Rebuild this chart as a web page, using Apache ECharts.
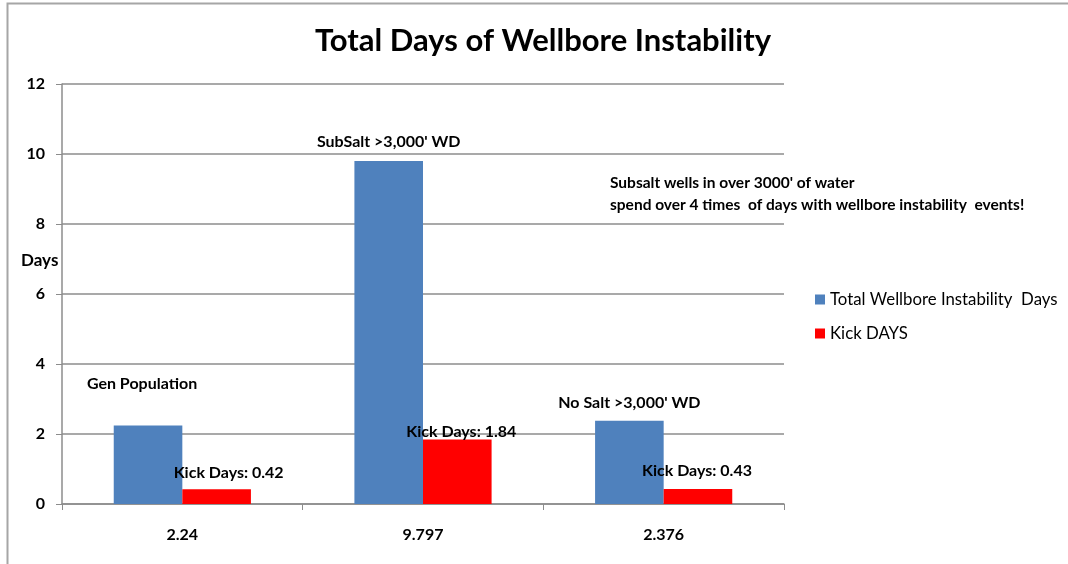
<!DOCTYPE html>
<html>
<head>
<meta charset="utf-8">
<script src="https://cdn.jsdelivr.net/npm/echarts@6/dist/echarts.min.js"></script>
<style>
  html, body { margin: 0; padding: 0; background: #ffffff; }
  #chart { width: 1068px; height: 564px; }
</style>
</head>
<body>
<div id="chart"></div>
<script>
// categories on the x axis (the totals as printed)
const categories = ['2.24', '9.797', '2.376'];
const totalDays = [2.24, 9.797, 2.376];
const kickDays = [0.42, 1.84, 0.43];
const groupNames = ['Gen Population', "SubSalt >3,000' WD", "No Salt >3,000' WD"];
const yTicks = [0, 2, 4, 6, 8, 10, 12];

const font = 'Lato, "DejaVu Sans", sans-serif';

// label placement per bar, kept apart from the values
const groupLabelDist = [34, 11, 10];
const groupLabelOffset = [[-6, 0], [0, 0], [0, 0]];
const kickLabelDist = [8, 0, 10];
const kickLabelOffset = [[12, 0], [4, 0], [-1, 0]];

const chart = echarts.init(document.getElementById('chart'));

chart.setOption({
  backgroundColor: '#ffffff',
  animation: false,
  textStyle: { fontFamily: font, color: '#000' },
  title: {
    text: 'Total Days of Wellbore Instability',
    left: 538,
    textAlign: 'center',
    top: 20,
    textStyle: { fontFamily: font, fontSize: 31, fontWeight: 'bold', color: '#000' }
  },
  legend: {
    orient: 'vertical',
    left: 810,
    top: 286,
    itemWidth: 10,
    itemHeight: 10,
    itemGap: 17,
    icon: 'rect',
    textStyle: { fontFamily: font, fontSize: 16.8, color: '#000' },
    data: ['Total Wellbore Instability  Days', 'Kick DAYS']
  },
  grid: { left: 62, right: 284, top: 84, bottom: 60 },
  xAxis: {
    type: 'category',
    data: categories,
    axisLine: { lineStyle: { color: '#8c8c8c', width: 1.5 } },
    axisTick: { show: true, length: 6, lineStyle: { color: '#8c8c8c' } },
    axisLabel: { fontFamily: font, fontSize: 16, fontWeight: 'bold', color: '#000', margin: 23 }
  },
  yAxis: {
    type: 'value',
    min: 0,
    max: 12,
    interval: 2,
    axisLine: { show: true, lineStyle: { color: '#8c8c8c', width: 1.5 } },
    axisTick: { show: true, length: 6, lineStyle: { color: '#8c8c8c' } },
    axisLabel: {
      fontFamily: font, fontSize: 16, fontWeight: 'bold', color: '#000', margin: 17,
      formatter: v => (yTicks.indexOf(v) >= 0 ? String(v) : '')
    },
    splitLine: { lineStyle: { color: '#8c8c8c', width: 1.5 } }
  },
  series: [
    {
      name: 'Total Wellbore Instability  Days',
      type: 'bar',
      barGap: '0%',
      barCategoryGap: '43%',
      itemStyle: { color: '#4f81bd' },
      data: totalDays.map((v, i) => ({
        value: v,
        label: {
          show: true,
          position: 'top',
          distance: groupLabelDist[i],
          offset: groupLabelOffset[i],
          formatter: groupNames[i],
          fontFamily: font,
          fontSize: 16,
          fontWeight: 'bold',
          color: '#000'
        }
      }))
    },
    {
      name: 'Kick DAYS',
      type: 'bar',
      itemStyle: { color: '#ff0000' },
      data: kickDays.map((v, i) => ({
        value: v,
        label: {
          show: true,
          position: 'top',
          distance: kickLabelDist[i],
          offset: kickLabelOffset[i],
          formatter: 'Kick Days: {c}',
          fontFamily: font,
          fontSize: 16,
          fontWeight: 'bold',
          color: '#000'
        }
      }))
    }
  ],
  graphic: [
    {
      type: 'polyline',
      shape: { points: [[7.5, 570], [7.5, 3.5], [1068, 3.5]] },
      style: { fill: null, stroke: '#a6a6a6', lineWidth: 2 },
      silent: true
    },
    {
      type: 'text',
      left: 21,
      top: 252,
      style: { text: 'Days', font: 'bold 17px ' + font, fill: '#000' }
    },
    {
      type: 'text',
      left: 610,
      top: 172,
      style: {
        text: "Subsalt wells in over 3000' of water\nspend over 4 times  of days with wellbore instability  events!",
        font: 'bold 15.5px ' + font,
        lineHeight: 22,
        fill: '#000'
      }
    }
  ]
});
</script>
</body>
</html>
